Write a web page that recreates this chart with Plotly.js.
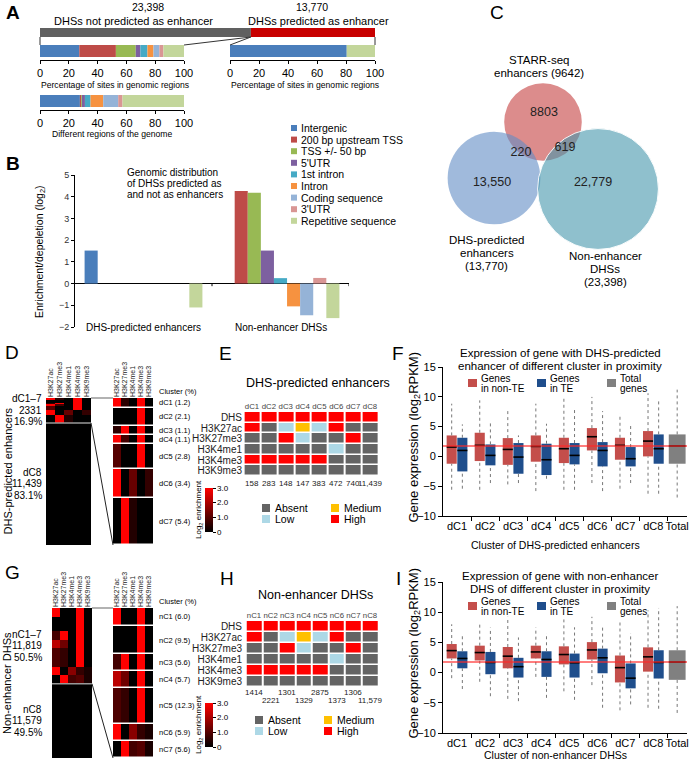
<!DOCTYPE html>
<html><head><meta charset="utf-8">
<script src="https://cdn.plot.ly/plotly-3.0.1.min.js"></script>
<style>html,body{margin:0;padding:0;background:#fff}#chart{width:691px;height:761px}</style>
</head><body><div id="chart"></div>
<script>
// ================= DATA =================
const regionNames = ['Intergenic','200 bp upstream TSS','TSS +/- 50 bp',"5'UTR",'1st intron','Intron','Coding sequence',"3'UTR",'Repetitive sequence'];
const regionColors = ['#4a7ebb','#be4b48','#98b954','#7d60a0','#46aac5','#f69240','#95b3d7','#d99694','#c3d69b'];
const dhsTotals = [23398, 13770];
const dhsTotalLabels = ['DHSs not predicted as enhancer','DHSs predicted as enhancer'];
const pctNonEnhancer = [27.3,25.4,13.8,3.2,4.9,4.2,4.1,2.8,14.3];
const pctEnhancer = [80.5,0,0,0,0,0,0,0,19.5];
const pctGenome = [27.7,0.8,0.6,2.1,3.9,8.8,10.4,3.0,42.7];
const pctTicks = [0,20,40,60,80,100];
const groupNames = ['DHS-predicted enhancers','Non-enhancer DHSs'];
const enrichPredicted = [1.52,0,0,0,0,0,0,0,-1.1];
const enrichNonEnh = [0,4.26,4.18,1.52,0.25,-1.05,-1.46,0.26,-1.59];

const vennNames = [['STARR-seq','enhancers (9642)'],['DHS-predicted','enhancers','(13,770)'],['Non-enhancer','DHSs','(23,398)']];
const vennSizes = [9642,13770,23398];
const vennRegionCounts = [8803,220,619,13550,22779];

const marks = ['H3K27ac','H3K27me3','H3K4me1','H3K4me3','H3K9me3'];
const dClusters = ['dC1','dC2','dC3','dC4','dC5','dC6','dC7','dC8'];
const dCounts = [158,283,148,147,383,472,740,11439];
const dPctLabels = [1.2,2.1,1.1,1.1,2.8,3.4,5.4];
const dK27ac  = [3,0,0.5,3,1.0,3,0,0];
const dK27me3 = [0.5,0,3,0.8,0,0,3,0];
const dK4me1  = [0,0,0,0,0,1.2,0.4,0];
const dK4me3  = [3,3,3,3,3,0,0,0];
const dK9me3  = [0,0,0,0,0,0.6,0,0];
const nClusters = ['nC1','nC2','nC3','nC4','nC5','nC6','nC7','nC8'];
const nCounts = [1414,2221,1301,1329,2875,1373,1306,11579];
const nPctLabels = [6.0,9.5,5.6,5.7,12.3,5.9,5.6];
const nK27ac  = [3,0,0.8,2.2,0.9,3,0,0];
const nK27me3 = [0,0,3,1.3,0.6,0,3,0];
const nK4me1  = [0,0,0,0,0,1.6,0.8,0];
const nK4me3  = [3,3,3,3,3,0.6,1.0,0];
const nK9me3  = [0,0,0,0,0,0.3,0.3,0];

const stateRows = ['DHS','H3K27ac','H3K27me3','H3K4me1','H3K4me3','H3K9me3'];
const stateNames = ['Absent','Low','Medium','High'];
const stateColors = ['#646464','#add8e6','#ffc000','#ff0000'];
const stDHS    = [3,3,3,3,3,3,3,3];
const stK27ac  = [3,0,1,2,1,3,0,0];
const stK27me3 = [0,0,3,1,0,0,3,0];
const stK4me1  = [0,0,0,0,0,1,0,0];
const stK4me3  = [3,3,3,3,3,0,0,0];
const stK9me3  = [0,0,0,0,0,0,0,0];

const boxCats = ['dC1','dC2','dC3','dC4','dC5','dC6','dC7','dC8','Total'];
const fNonTE_q1  = [-1.23,-0.78,-1.42,-0.89,-1.12,1.0,-0.56,0.0];
const fNonTE_med = [1.57,1.85,1.17,1.68,1.29,3.3,1.85,2.57];
const fNonTE_q3  = [3.52,3.97,3.07,3.52,3.13,4.75,3.13,4.25];
const fNonTE_lo  = [-5.59,-5.6,-4.7,-5.82,-5.6,-4.47,-5.42,-6.26];
const fNonTE_hi  = [8.84,9.4,7.83,8.84,9.7,9.98,7.16,10.6];
const fTE_q1  = [-2.52,-1.5,-2.91,-3.13,-1.34,-1.68,-1.68,-1.23];
const fTE_med = [1.0,0.17,-0.11,-0.56,0.17,1.0,-0.39,1.29];
const fTE_q3  = [3.13,2.01,2.24,2.13,2.24,2.4,1.57,3.69];
const fTE_lo  = [-5.42,-4.47,-4.47,-3.75,-5.6,-5.82,-4.47,-6.26];
const fTE_hi  = [5.37,6.04,3.52,5.48,7.83,7.6,5.14,9.7];
const fTotal  = {q1:-1.23, med:1.75, q3:3.69, lo:-6.9, hi:11.2};
const iNonTE_q1  = [2.34,2.01,0.71,2.34,1.36,2.17,-1.63,0.16];
const iNonTE_med = [3.64,3.32,2.72,3.42,2.99,3.75,0.82,2.61];
const iNonTE_q3  = [4.73,4.46,4.24,4.46,4.35,5.05,2.83,4.18];
const iNonTE_lo  = [-0.92,-1.52,-4.35,-0.71,-3.1,-2.07,-6.25,-5.82];
const iNonTE_hi  = [8.0,8.0,9.24,7.5,8.8,9.24,8.53,10.3];
const iTE_q1  = [0.71,-0.27,-0.82,-0.71,-0.82,-0.11,-2.61,-0.98];
const iTE_med = [2.34,1.68,0.98,2.17,1.63,2.45,-0.92,1.68];
const iTE_q3  = [3.53,3.42,2.45,3.53,3.15,3.97,1.52,3.7];
const iTE_lo  = [-2.72,-3.91,-4.73,-4.18,-4.51,-5.82,-5.27,-5.98];
const iTE_hi  = [6.25,7.45,5.82,6.52,7.5,7.77,6.52,10.7];
const iTotal  = {q1:-1.2, med:1.75, q3:3.7, lo:-6.68, hi:11.0};
const boxLegend = [['Genes','in non-TE'],['Genes','in TE'],['Total','genes']];
const boxColors = ['#c44e4b','#1f4e8c','#808080'];

// ================= HELPERS =================
const FONT = '"Liberation Sans", Arial, sans-serif';
const W = 691, H = 761;
const fx = p => p / W, fy = p => 1 - p / H;
const sum = a => a.reduce((s, v) => s + v, 0);
const fmt = n => n >= 10000 ? n.toLocaleString('en-US') : String(n);
const layout = {width:W,height:H,margin:{l:0,r:0,t:0,b:0,pad:0},paper_bgcolor:'#fff',plot_bgcolor:'#fff',
  showlegend:false,font:{family:FONT,size:10,color:'#000'},annotations:[],shapes:[],
  barmode:'group',bargap:0.14,bargroupgap:0};
const traces = [];
let nAx = 0;
function axes(x0,x1,y0,y1,xo,yo){
  nAx++; const s = nAx===1 ? '' : String(nAx);
  const base = () => ({showgrid:false,zeroline:false,showline:false,ticks:'',showticklabels:false,fixedrange:true});
  layout['xaxis'+s] = Object.assign(base(),{domain:[fx(x0),fx(x1)],anchor:'y'+s},xo||{});
  layout['yaxis'+s] = Object.assign(base(),{domain:[fy(y1),fy(y0)],anchor:'x'+s},yo||{});
  return {x:'x'+s, y:'y'+s};
}
function ann(o){ layout.annotations.push(Object.assign({showarrow:false,xref:'paper',yref:'paper',xanchor:'center',yanchor:'middle'},o)); }
function ptxt(x,y,text,size,o){ ann(Object.assign({x:fx(x),y:fy(y),text:text,font:{size:size,color:'#000'}},o||{})); }
function plines(x,y,arr,size,sp,o){ arr.forEach((t,i)=>ptxt(x,y+i*sp,t,size,o)); }
function pline(x0,y0,x1,y1,color,width){ layout.shapes.push({type:'line',xref:'paper',yref:'paper',x0:fx(x0),y0:fy(y0),x1:fx(x1),y1:fy(y1),line:{color:color,width:width}}); }
function prect(x0,y0,x1,y1,color){ layout.shapes.push({type:'rect',xref:'paper',yref:'paper',x0:fx(x0),y0:fy(y0),x1:fx(x1),y1:fy(y1),line:{width:0},fillcolor:color}); }

// ================= PANEL LETTERS =================
[['<b>A</b>',13,12],['<b>B</b>',13,163],['C',497,12],['D',12,352],['E',226,353],['F',398,353],['G',12,572],['H',227,578],['I',398,578]]
  .forEach(l=>ptxt(l[1],l[2],l[0],19));

// ================= PANEL A =================
const totalDHS = sum(dhsTotals);
const aTop = axes(40,375,28,37,{range:[0,totalDHS]},{range:[-0.5,0.5]});
traces.push({type:'bar',orientation:'h',xaxis:aTop.x,yaxis:aTop.y,y:[0,0],x:dhsTotals,base:[0,dhsTotals[0]],width:1,
  marker:{color:['#606060','#c80000'],line:{width:0}},hoverinfo:'skip'});
ptxt(148,7,fmt(dhsTotals[0]),10.5); ptxt(133,21,dhsTotalLabels[0],11);
ptxt(312,7,fmt(dhsTotals[1]),10.5); ptxt(318,21,dhsTotalLabels[1],11);

function stackBar(x0,x1,y0,y1,pcts){
  const starts=[]; let c=0; pcts.forEach(p=>{starts.push(c); c+=p;});
  const ax = axes(x0,x1,y0,y1,{range:[0,100],showline:true,linecolor:'#000',linewidth:1,ticks:'outside',ticklen:3,tickcolor:'#000',
    tickmode:'array',tickvals:pctTicks,showticklabels:true,tickfont:{size:11,color:'#000'}},{range:[-0.75,0.5]});
  traces.push({type:'bar',orientation:'h',xaxis:ax.x,yaxis:ax.y,y:pcts.map(()=>0),x:pcts,base:starts,width:1,
    marker:{color:regionColors,line:{width:0}},hoverinfo:'skip'});
}
stackBar(40,184,45,60,pctNonEnhancer);
stackBar(230,375,45,60,pctEnhancer);
stackBar(40,184,95,110,pctGenome);
ptxt(115,85,'Percentage of sites in genomic regions',8.6);
ptxt(305,85,'Percentage of sites in genomic regions',8.6);
ptxt(112,134,'Different regions of the genome',8.6);
const splitPx = 40 + 335*dhsTotals[0]/totalDHS;
pline(40,37,40,45,'#333',1); pline(375,37,375,45,'#333',1);
pline(splitPx,37,184,45,'#333',1); pline(splitPx,37,230,45,'#333',1);

// legend (shared colours)
regionNames.forEach((n,i)=>{ const y=128+i*11.6; prect(291,y-3,297,y+3,regionColors[i]); ptxt(299,y,n,10.5,{xanchor:'left'}); });

// ================= PANEL B =================
const bAx = axes(75,349,175,327,{range:[-0.5,1.5]},
  {range:[-2,5],tickmode:'array',tickvals:[-2,-1,0,1,2,3,4,5],showline:true,linecolor:'#000',ticks:'outside',ticklen:3,tickcolor:'#000',
   showticklabels:true,tickfont:{size:9,color:'#333'},zeroline:true,zerolinecolor:'#000',zerolinewidth:1});
regionNames.forEach((n,i)=>traces.push({type:'bar',xaxis:bAx.x,yaxis:bAx.y,x:[0,1],y:[enrichPredicted[i],enrichNonEnh[i]],name:n,
  marker:{color:regionColors[i],line:{width:0}},hoverinfo:'skip'}));
[0.5,1.5].forEach(v=>layout.shapes.push({type:'line',xref:bAx.x,yref:bAx.y,x0:v,x1:v,y0:0,y1:-0.12,line:{color:'#000',width:1}}));
groupNames.forEach((g,i)=>ann({xref:bAx.x,x:i,y:fy(327),text:g,font:{size:10}}));
ptxt(40,252,'Enrichment/depeletion (log<sub>2</sub>)',10.5,{textangle:-90});
plines(125,172,['Genomic distribution','of DHSs predicted as','and not as enhancers'],10,11,{xanchor:'left'});

// ================= PANEL C (Venn) =================
const vAx = axes(385,691,0,300,{range:[0,306]},{range:[300,0]});
const vennCenters = [[158,122],[109,178],[213,189]];
const vennFill = ['rgba(197,63,63,0.6)','rgba(97,140,197,0.6)','rgba(68,150,172,0.6)'];
vennSizes.forEach((s,i)=>{ const r=0.395*Math.sqrt(s); const c=vennCenters[i];
  layout.shapes.push({type:'circle',layer:'below',xref:vAx.x,yref:vAx.y,x0:c[0]-r,x1:c[0]+r,y0:c[1]-r,y1:c[1]+r,fillcolor:vennFill[i],
    line:{color:i===2?'rgba(255,255,255,0.9)':'rgba(0,0,0,0)',width:1}}); });
traces.push({type:'scatter',mode:'text',xaxis:vAx.x,yaxis:vAx.y,x:[159,136,180,107,208],y:[113,153,148,183,183],
  text:vennRegionCounts.map(fmt),textfont:{size:12.5,color:'#222',family:FONT},hoverinfo:'skip'});
plines(539,60,vennNames[0],11.5,13);
plines(487,240,vennNames[1],11.5,13);
plines(605,256,vennNames[2],11.5,13);

// ================= PANELS D & G (heatmaps) =================
const heatScale = [[0,'#000000'],[1,'#ff0000']];
function colAxis(){ return {range:[-0.5,4.5],side:'top',tickmode:'array',tickvals:[0,1,2,3,4],ticktext:marks,showticklabels:true,
  tickangle:-90,tickfont:{size:7,color:'#222'}}; }
function clusterPanel(o){
  const n=o.clusters.length, small=n-1;
  const edges=[0]; o.counts.forEach(c=>edges.push(edges[edges.length-1]+c));
  const total=edges[n], sTotal=edges[small];
  const z=o.clusters.map((_,i)=>o.vals.map(m=>m[i]));
  const L=axes(o.lx0,o.lx1,o.y0,o.y1,colAxis(),{range:[total,0]});
  traces.push({type:'heatmap',xaxis:L.x,yaxis:L.y,x:[0,1,2,3,4],y:edges,z:z,zmin:0,zmax:3,colorscale:heatScale,showscale:false,hoverinfo:'skip'});
  const R=axes(o.rx0,o.rx1,o.y0,o.y1,colAxis(),{range:[sTotal,0]});
  traces.push({type:'heatmap',xaxis:R.x,yaxis:R.y,x:[0,1,2,3,4],y:edges.slice(0,n),z:z.slice(0,small),zmin:0,zmax:3,colorscale:heatScale,
    ygap:1.5,hoverinfo:'skip',showscale:true,
    colorbar:{x:fx(205),xanchor:'left',xpad:0,y:fy(o.cbTop),yanchor:'top',ypad:0,len:44,lenmode:'pixels',thickness:8,thicknessmode:'pixels',
      outlinewidth:0,tickmode:'array',tickvals:[0,1,2,3],ticktext:['0','1.0','2.0','3.0'],ticks:'outside',ticklen:3,tickcolor:'#000',
      tickfont:{size:8,color:'#000'}}});
  ptxt(199,o.cbTop+22,'Log<sub>2</sub> enrichment',8,{textangle:-90});
  ptxt(o.rx1+4,o.y0-7,'Cluster (%)',7.5,{xanchor:'left'});
  for(let i=0;i<small;i++) ann({x:fx(o.rx1+4),xanchor:'left',yref:R.y,y:(edges[i]+edges[i+1])/2,
    text:o.clusters[i]+' ('+o.pctLabels[i].toFixed(1)+')',font:{size:7.5}});
  const sepPx=o.y0+(o.y1-o.y0)*sTotal/total;
  pline(o.lx0,sepPx,o.lx1,sepPx,'#999',1.5);
  pline(o.lx1,o.y0,o.rx0,o.y0,'#999',1.5);
  pline(o.lx1,sepPx,o.rx0,o.y1,'#222',1);
  const top=[o.clusters[0]+'–'+small, fmt(sTotal), (100*sTotal/total).toFixed(1)+'%'];
  const bot=[o.clusters[small], fmt(o.counts[small]), (100*o.counts[small]/total).toFixed(1)+'%'];
  const m1=(o.y0+sepPx)/2, m2=(sepPx+o.y1)/2;
  plines(44,m1-11.5,top,10,11.5,{xanchor:'right'});
  plines(44,m2-11.5,bot,10,11.5,{xanchor:'right'});
  ptxt(7,(o.y0+o.y1)/2,o.sideLabel,11,{textangle:-90});
}
clusterPanel({clusters:dClusters,counts:dCounts,pctLabels:dPctLabels,vals:[dK27ac,dK27me3,dK4me1,dK4me3,dK9me3],
  lx0:46,lx1:91,rx0:113,rx1:153,y0:398,y1:545,cbTop:488,sideLabel:'DHS-predicted enhancers'});
clusterPanel({clusters:nClusters,counts:nCounts,pctLabels:nPctLabels,vals:[nK27ac,nK27me3,nK4me1,nK4me3,nK9me3],
  lx0:52,lx1:92,rx0:113,rx1:153,y0:608,y1:758,cbTop:703,sideLabel:'Non-enhancer DHSs'});

// ================= PANELS E & H (state grids) =================
const stateScale = [[0,stateColors[0]],[1/6,stateColors[0]],[1/6,stateColors[1]],[0.5,stateColors[1]],[0.5,stateColors[2]],[5/6,stateColors[2]],[5/6,stateColors[3]],[1,stateColors[3]]];
const stateMatrix = [stDHS,stK27ac,stK27me3,stK4me1,stK4me3,stK9me3];
function stateGrid(o){
  const G=axes(o.x0,o.x1,o.y0,o.y1,
    {type:'category',side:'top',tickmode:'array',tickvals:o.clusters,ticktext:o.clusters,tickangle:0,showticklabels:true,tickfont:{size:7.8,color:'#444'}},
    {type:'category',autorange:'reversed',tickmode:'array',tickvals:stateRows,ticktext:stateRows,tickangle:0,showticklabels:true,tickfont:{size:10,color:'#222'}});
  traces.push({type:'heatmap',xaxis:G.x,yaxis:G.y,x:o.clusters,y:stateRows,z:stateMatrix,zmin:0,zmax:3,colorscale:stateScale,
    xgap:2,ygap:1.5,showscale:false,hoverinfo:'skip'});
  ptxt(o.titleX,o.titleY,o.title,12.5);
  o.counts.forEach((c,i)=>ann({xref:G.x,x:o.clusters[i],y:fy(o.countY(i)),text:fmt(c),font:{size:8,color:'#222'}}));
  stateNames.forEach((s,i)=>{ const lx=o.lgX[Math.floor(i/2)], ly=o.lgY[i%2];
    prect(lx,ly-4,lx+8,ly+4,stateColors[i]); ptxt(lx+11,ly,s,10.5,{xanchor:'left'}); });
}
stateGrid({clusters:dClusters,counts:dCounts,x0:243,x1:384,y0:412,y1:476,title:'DHS-predicted enhancers',titleX:318,titleY:383,
  countY:i=>483,lgX:[262,331],lgY:[508,519]});
stateGrid({clusters:nClusters,counts:nCounts,x0:243,x1:384,y0:621,y1:687,title:'Non-enhancer DHSs',titleX:315,titleY:595,
  countY:i=>i%2===0?692:700,lgX:[255,324],lgY:[720,731]});

// ================= PANELS F & I (box plots) =================
function boxPanel(o){
  const catPos=[0,1,2,3,4,5,6,7], totalPos=7.85;
  const ax=axes(443,687,o.y0,o.y1,{range:[-0.5,8.2],showline:true,linecolor:'#000',linewidth:1,tickmode:'array',
      tickvals:catPos.concat([totalPos]),ticktext:boxCats,showticklabels:true,tickfont:{size:11,color:'#000'},
      minor:{tickmode:'array',tickvals:catPos.map(p=>p+0.5),ticks:'outside',ticklen:4,tickcolor:'#000'}},
    {range:[-10,15],tickmode:'array',tickvals:[-10,-5,0,5,10,15],showline:true,linecolor:'#000',linewidth:1,ticks:'outside',ticklen:4,
      tickcolor:'#000',showticklabels:true,tickfont:{size:11,color:'#000'}});
  const X=[],Q1=[],Q3=[],MED=[],LO=[],HI=[],C=[],WD=[];
  const add=(x,q1,md,q3,lo,hi,c,w)=>{X.push(x);Q1.push(q1);MED.push(md);Q3.push(q3);LO.push(lo);HI.push(hi);C.push(c);WD.push(w);};
  catPos.forEach(p=>{ add(p-0.19,o.a.q1[p],o.a.med[p],o.a.q3[p],o.a.lo[p],o.a.hi[p],boxColors[0],0.36);
                      add(p+0.19,o.b.q1[p],o.b.med[p],o.b.q3[p],o.b.lo[p],o.b.hi[p],boxColors[1],0.36); });
  add(totalPos,o.t.q1,o.t.med,o.t.q3,o.t.lo,o.t.hi,boxColors[2],0.6);
  const wx=[],wy=[],mx=[],my=[];
  X.forEach((x,i)=>{ wx.push(x,x,null,x,x,null); wy.push(LO[i],Q1[i],null,Q3[i],HI[i],null);
    mx.push(x-WD[i]/2,x+WD[i]/2,null); my.push(MED[i],MED[i],null); });
  traces.push({type:'bar',xaxis:ax.x,yaxis:ax.y,x:X,base:Q1,y:Q3.map((q,i)=>q-Q1[i]),width:WD,marker:{color:C,line:{width:0}},hoverinfo:'skip'});
  traces.push({type:'scatter',mode:'lines',xaxis:ax.x,yaxis:ax.y,x:wx,y:wy,line:{color:'#777',width:1,dash:'dot'},hoverinfo:'skip'});
  traces.push({type:'scatter',mode:'lines',xaxis:ax.x,yaxis:ax.y,x:mx,y:my,line:{color:'#000',width:1.6},hoverinfo:'skip'});
  traces.push({type:'scatter',mode:'lines',xaxis:ax.x,yaxis:ax.y,x:[-0.5,8.2],y:[o.t.med,o.t.med],line:{color:'rgba(255,40,40,0.8)',width:1.5},hoverinfo:'skip'});
  ptxt(560,o.titleY,o.title[0],11.5); ptxt(560,o.titleY+12.5,o.title[1],11.5);
  ptxt(414,(o.y0+o.y1)/2-4,'Gene expression (log<sub>2</sub>RPKM)',13,{textangle:-90});
  ptxt(555,o.xTitleY,o.xTitle,10.5);
  [468,537,607].forEach((lx,i)=>{ prect(lx,o.lgY-4,lx+9,o.lgY+4,boxColors[i]);
    ptxt(lx+11,o.lgY-5,boxLegend[i][0],10,{xanchor:'left'}); ptxt(lx+11,o.lgY+5,boxLegend[i][1],10,{xanchor:'left'}); });
}
boxPanel({y0:367,y1:516,titleY:353,title:['Expression of gene with DHS-predicted','enhancer of different cluster in proximity'],
  xTitle:'Cluster of DHS-predicted enhancers',xTitleY:545,lgY:383,
  a:{q1:fNonTE_q1,med:fNonTE_med,q3:fNonTE_q3,lo:fNonTE_lo,hi:fNonTE_hi},b:{q1:fTE_q1,med:fTE_med,q3:fTE_q3,lo:fTE_lo,hi:fTE_hi},t:fTotal});
boxPanel({y0:582,y1:733,titleY:576,title:['Expression of gene with non-enhancer','DHS of different cluster in proximity'],
  xTitle:'Cluster of non-enhancer DHSs',xTitleY:755,lgY:606,
  a:{q1:iNonTE_q1,med:iNonTE_med,q3:iNonTE_q3,lo:iNonTE_lo,hi:iNonTE_hi},b:{q1:iTE_q1,med:iTE_med,q3:iTE_q3,lo:iTE_lo,hi:iTE_hi},t:iTotal});

Plotly.newPlot('chart',traces,layout,{staticPlot:true,displayModeBar:false});
</script></body></html>
